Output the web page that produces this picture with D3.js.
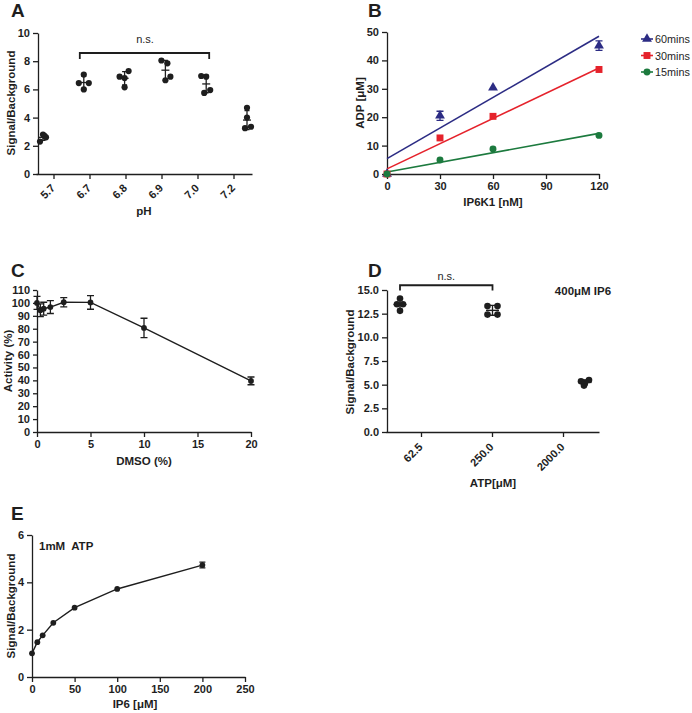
<!DOCTYPE html>
<html>
<head>
<meta charset="utf-8">
<script src="https://cdn.jsdelivr.net/npm/d3@7"></script>
<style>
body { margin: 0; background: #fff; }
svg text { font-family: "Liberation Sans", Arial, sans-serif; fill: #1e1e1e; }
.axis .tick text { font-size: 11px; font-weight: bold; }
.axis path, .axis line { stroke: #1e1e1e; stroke-width: 1.3; }
.title { font-size: 11.5px; font-weight: bold; }
.letter { font-size: 19px; font-weight: bold; }
</style>
</head>
<body>
<div id="chart"></div>
<script>
// ---- panel A: pH
const phLabels = ["5.7", "6.7", "6.8", "6.9", "7.0", "7.2"];
const phValues = [[2.3, 2.8, 2.7, 2.6], [7.05, 6.45, 6.45, 6.0], [6.9, 6.8, 7.3, 6.15],
                  [8.05, 7.85, 6.65, 6.9], [6.95, 6.9, 5.75, 5.95], [4.7, 4.0, 3.25, 3.35]];
const phJitter = [[-3, 0, 1.5, 3], [0, -5, 5, 0], [-5, 0, 4, 0], [-4, 2, 0, 5], [-5, 0, -2, 4], [0, 0, -2, 4]];
const yTicksA = [0, 2, 4, 6, 8, 10];

// ---- panel B: IP6K1 titration
const ip6k1 = [0, 30, 60, 120];
const adp60 = [0, 20.5, 30.4, 45.2];
const adp60Err = [0, 1.6, 0, 1.7];
const adp30 = [0, 12.7, 20.3, 36.8];
const adp15 = [0, 4.9, 8.8, 13.6];
const fitX = [0, 120];
const fit60 = [5.4, 48.5];
const fit30 = [1.8, 37.3];
const fit15 = [0.7, 14.3];
const xTicksB = [0, 30, 60, 90, 120];
const yTicksB = [0, 10, 20, 30, 40, 50];

// ---- panel C: DMSO
const dmso = [0, 0.3125, 0.625, 1.25, 2.5, 5, 10, 20];
const activity = [100, 94.3, 95.5, 96.8, 100.5, 100.4, 80.6, 39.6];
const activityErr = [5, 5, 5, 5, 3.6, 5.3, 7.5, 3];
const xTicksC = [0, 5, 10, 15, 20];
const yTicksC = [0, 10, 20, 30, 40, 50, 60, 70, 80, 90, 100, 110];

// ---- panel D: ATP
const atpLabels = ["62.5", "250.0", "2000.0"];
const atpValues = [[14.1, 13.5, 13.5, 12.8], [13.3, 13.3, 12.4, 12.4], [5.35, 5.5, 4.9, 5.2]];
const atpJitter = [[0, -3, 3, 0], [-5, 5, -5, 5], [-4, 4, -1, 0]];
const yTicksD = [0, 2.5, 5, 7.5, 10, 12.5, 15];

// ---- panel E: IP6
const ip6 = [0, 6.25, 12.5, 25, 50, 100, 200];
const sbE = [1.0, 1.47, 1.76, 2.29, 2.93, 3.72, 4.73];
const sbEErr = [0, 0, 0, 0, 0, 0, 0.12];
const xTicksE = [0, 50, 100, 150, 200, 250];
const yTicksE = [0, 2, 4, 6];

const ink = "#1e1e1e";
const navy = "#2c2c84", red = "#e5222b", green = "#1c7a3e";
const intFmt = d3.format("d");

let svg = d3.select("#chart")
    .append("svg")
    .attr("width", 692)
    .attr("height", 713);

function letter(t, x, y) {
    svg.append("text").attr("class", "letter").attr("x", x).attr("y", y).text(t);
}
function xTitle(t, x, y) {
    svg.append("text").attr("class", "title").attr("x", x).attr("y", y)
        .style("text-anchor", "middle").text(t);
}
function yTitle(t, x, y) {
    svg.append("text").attr("class", "title")
        .attr("transform", `translate(${x}, ${y}) rotate(-90)`)
        .style("text-anchor", "middle").text(t);
}
function errBars(g, data, x, y, cap) {
    g.selectAll(null).data(data).enter().append("path")
        .attr("fill", "none").attr("stroke", ink).attr("stroke-width", 1.3)
        .attr("d", d => `M${x(d)},${y(d.lo)}V${y(d.hi)}M${x(d) - cap},${y(d.lo)}h${2 * cap}M${x(d) - cap},${y(d.hi)}h${2 * cap}`);
}

// ================= A =================
letter("A", 11, 17);
let xA = d3.scaleBand().domain(phLabels).range([36, 252]);
let xAPts = d3.scalePoint().domain(phLabels).range([43, 247]);
let yA = d3.scaleLinear().domain([0, 10]).range([174, 33]);
let gA = svg.append("g");

gA.append("g").attr("class", "axis").attr("transform", "translate(0,174)")
    .call(d3.axisBottom(xA).tickSize(5).tickSizeOuter(0))
    .selectAll("text")
    .attr("y", 0).attr("dy", "0.35em")
    .style("text-anchor", "end")
    .attr("transform", "translate(-1,12) rotate(-45)");
gA.append("g").attr("class", "axis").attr("transform", "translate(38,0)")
    .call(d3.axisLeft(yA).tickValues(yTicksA).tickFormat(intFmt).tickSize(5).tickSizeOuter(0));

let ptsA = phValues.flatMap((vals, i) => vals.map((v, j) => ({g: phLabels[i], v: v, dx: phJitter[i][j]})));
let statsA = phValues.map((vals, i) => {
    let m = d3.mean(vals), s = d3.deviation(vals);
    return {g: phLabels[i], m: m, lo: m - s, hi: m + s};
});
gA.selectAll("circle").data(ptsA).enter().append("circle")
    .attr("cx", d => xAPts(d.g) + d.dx).attr("cy", d => yA(d.v))
    .attr("r", 3.1).attr("fill", ink);
errBars(gA, statsA, d => xAPts(d.g), yA, 2.5);
gA.selectAll(".mean").data(statsA).enter().append("line")
    .attr("x1", d => xAPts(d.g) - 4).attr("x2", d => xAPts(d.g) + 4)
    .attr("y1", d => yA(d.m)).attr("y2", d => yA(d.m))
    .attr("stroke", ink).attr("stroke-width", 1.3);

gA.append("path")
    .attr("d", `M${xAPts("6.7") - 4},${yA(8.15)}V${yA(8.58)}H${xAPts("7.0") + 3}V${yA(8.15)}`)
    .attr("fill", "none").attr("stroke", ink).attr("stroke-width", 1.8);
gA.append("text").attr("x", (xAPts("6.7") + xAPts("7.0")) / 2).attr("y", yA(9.3))
    .style("text-anchor", "middle").style("font-size", "11px").text("n.s.");
xTitle("pH", 144, 215);
yTitle("Signal/Background", 15, 103);

// ================= B =================
letter("B", 368, 17);
let xB = d3.scaleLinear().domain([0, 120]).range([387, 599]);
let yB = d3.scaleLinear().domain([0, 50]).range([174, 32]);
let gB = svg.append("g");
gB.append("g").attr("class", "axis").attr("transform", "translate(0,174)")
    .call(d3.axisBottom(xB).tickValues(xTicksB).tickFormat(intFmt).tickSize(5).tickSizeOuter(0));
gB.append("g").attr("class", "axis").attr("transform", "translate(387,0)")
    .call(d3.axisLeft(yB).tickValues(yTicksB).tickFormat(intFmt).tickSize(5).tickSizeOuter(0));

let seriesB = [
    {name: "60mins", color: navy, sym: d3.symbolTriangle, size: 42, vals: adp60, fit: fit60},
    {name: "30mins", color: red, sym: d3.symbolSquare, size: 48, vals: adp30, fit: fit30},
    {name: "15mins", color: green, sym: d3.symbolCircle, size: 38, vals: adp15, fit: fit15}
];
seriesB.forEach(s => {
    gB.append("line")
        .attr("x1", xB(fitX[0])).attr("y1", yB(s.fit[0]))
        .attr("x2", xB(fitX[1])).attr("y2", yB(s.fit[1]))
        .attr("stroke", s.color).attr("stroke-width", 1.6);
});
let err60 = ip6k1.map((c, i) => ({c: c, lo: adp60[i] - adp60Err[i], hi: adp60[i] + adp60Err[i]}))
    .filter((d, i) => adp60Err[i] > 0);
gB.selectAll(null).data(err60).enter().append("path")
    .attr("fill", "none").attr("stroke", navy).attr("stroke-width", 1.3)
    .attr("d", d => `M${xB(d.c)},${yB(d.lo)}V${yB(d.hi)}M${xB(d.c) - 3.5},${yB(d.lo)}h7M${xB(d.c) - 3.5},${yB(d.hi)}h7`);
seriesB.forEach(s => {
    gB.selectAll(null).data(s.vals).enter().append("path")
        .attr("d", d3.symbol().type(s.sym).size(s.size))
        .attr("transform", (d, i) => `translate(${xB(ip6k1[i])},${yB(d)})`)
        .attr("fill", s.color);
});
let legB = gB.selectAll(".leg").data(seriesB).enter().append("g")
    .attr("transform", (d, i) => `translate(641,${39 + i * 16.5})`);
legB.append("line").attr("x1", 0).attr("x2", 12).attr("stroke", d => d.color).attr("stroke-width", 1.6);
legB.append("path").attr("d", d => d3.symbol().type(d.sym).size(d.size)())
    .attr("transform", "translate(6,0)").attr("fill", d => d.color);
legB.append("text").attr("x", 14).attr("y", 4).style("font-size", "10.8px").text(d => d.name);
xTitle("IP6K1 [nM]", 493, 206);
yTitle("ADP [\u03bcM]", 364, 103);

// ================= C =================
letter("C", 11, 277);
let xC = d3.scaleLinear().domain([0, 20]).range([37, 251]);
let yC = d3.scaleLinear().domain([0, 110]).range([432, 290]);
let gC = svg.append("g");
gC.append("g").attr("class", "axis").attr("transform", "translate(0,432)")
    .call(d3.axisBottom(xC).tickValues(xTicksC).tickFormat(intFmt).tickSize(5).tickSizeOuter(0));
gC.append("g").attr("class", "axis").attr("transform", "translate(37,0)")
    .call(d3.axisLeft(yC).tickValues(yTicksC).tickFormat(intFmt).tickSize(4).tickSizeOuter(0));
let ptsC = dmso.map((c, i) => ({c: c, v: activity[i], lo: activity[i] - activityErr[i], hi: activity[i] + activityErr[i]}));
gC.append("path").datum(ptsC)
    .attr("d", d3.line().x(d => xC(d.c)).y(d => yC(d.v)))
    .attr("fill", "none").attr("stroke", ink).attr("stroke-width", 1.4);
errBars(gC, ptsC, d => xC(d.c), yC, 3.5);
gC.selectAll("circle").data(ptsC).enter().append("circle")
    .attr("cx", d => xC(d.c)).attr("cy", d => yC(d.v)).attr("r", 2.9).attr("fill", ink);
xTitle("DMSO (%)", 144, 465);
yTitle("Activity (%)", 12, 361);

// ================= D =================
letter("D", 368, 277);
let xD = d3.scaleBand().domain(atpLabels).range([386, 599]);
let xDPts = d3.scalePoint().domain(atpLabels).range([400, 585]);
let yD = d3.scaleLinear().domain([0, 15]).range([432, 290]);
let gD = svg.append("g");
gD.append("g").attr("class", "axis").attr("transform", "translate(0,432)")
    .call(d3.axisBottom(xD).tickSize(5).tickSizeOuter(0))
    .selectAll("text")
    .attr("y", 0).attr("dy", "0.35em")
    .style("text-anchor", "end")
    .attr("transform", "translate(-1,13) rotate(-45)");
gD.append("g").attr("class", "axis").attr("transform", "translate(387,0)")
    .call(d3.axisLeft(yD).tickValues(yTicksD).tickFormat(d3.format(".1f")).tickSize(5).tickSizeOuter(0));
let ptsD = atpValues.flatMap((vals, i) => vals.map((v, j) => ({g: atpLabels[i], v: v, dx: atpJitter[i][j]})));
let statsD = atpValues.map((vals, i) => {
    let m = d3.mean(vals), s = d3.deviation(vals);
    return {g: atpLabels[i], m: m, lo: m - s, hi: m + s};
});
gD.selectAll("circle").data(ptsD).enter().append("circle")
    .attr("cx", d => xDPts(d.g) + d.dx).attr("cy", d => yD(d.v))
    .attr("r", 3.3).attr("fill", ink);
errBars(gD, statsD, d => xDPts(d.g), yD, 3);
gD.selectAll(".mean").data(statsD).enter().append("line")
    .attr("x1", d => xDPts(d.g) - 6.5).attr("x2", d => xDPts(d.g) + 6.5)
    .attr("y1", d => yD(d.m)).attr("y2", d => yD(d.m))
    .attr("stroke", ink).attr("stroke-width", 1.4);
gD.append("path")
    .attr("d", `M${xDPts("62.5")},${yD(14.95)}V${yD(15.5)}H${xDPts("250.0")}V${yD(14.95)}`)
    .attr("fill", "none").attr("stroke", ink).attr("stroke-width", 1.8);
gD.append("text").attr("x", (xDPts("62.5") + xDPts("250.0")) / 2).attr("y", yD(16.1))
    .style("text-anchor", "middle").style("font-size", "11px").text("n.s.");
gD.append("text").attr("x", 583).attr("y", 295).attr("class", "title")
    .style("text-anchor", "middle").text("400\u03bcM IP6");
xTitle("ATP[\u03bcM]", 493, 487);
yTitle("Signal/Background", 354, 362);

// ================= E =================
letter("E", 11, 520);
let xE = d3.scaleLinear().domain([0, 250]).range([32, 245]);
let yE = d3.scaleLinear().domain([0, 6]).range([677, 535]);
let gE = svg.append("g");
gE.append("g").attr("class", "axis").attr("transform", "translate(0,677)")
    .call(d3.axisBottom(xE).tickValues(xTicksE).tickFormat(intFmt).tickSize(5).tickSizeOuter(0));
gE.append("g").attr("class", "axis").attr("transform", "translate(32,0)")
    .call(d3.axisLeft(yE).tickValues(yTicksE).tickFormat(intFmt).tickSize(5).tickSizeOuter(0));
let ptsE = ip6.map((c, i) => ({c: c, v: sbE[i], lo: sbE[i] - sbEErr[i], hi: sbE[i] + sbEErr[i]}));
gE.append("path").datum(ptsE)
    .attr("d", d3.line().x(d => xE(d.c)).y(d => yE(d.v)))
    .attr("fill", "none").attr("stroke", ink).attr("stroke-width", 1.4);
errBars(gE, ptsE.filter(d => d.hi > d.v), d => xE(d.c), yE, 3);
gE.selectAll("circle").data(ptsE).enter().append("circle")
    .attr("cx", d => xE(d.c)).attr("cy", d => yE(d.v)).attr("r", 2.9).attr("fill", ink);
gE.append("text").attr("class", "title").attr("x", 39).attr("y", 550)
    .style("white-space", "pre").text("1mM  ATP");
xTitle("IP6 [\u03bcM]", 135, 708);
yTitle("Signal/Background", 15, 606);
</script>
</body>
</html>
